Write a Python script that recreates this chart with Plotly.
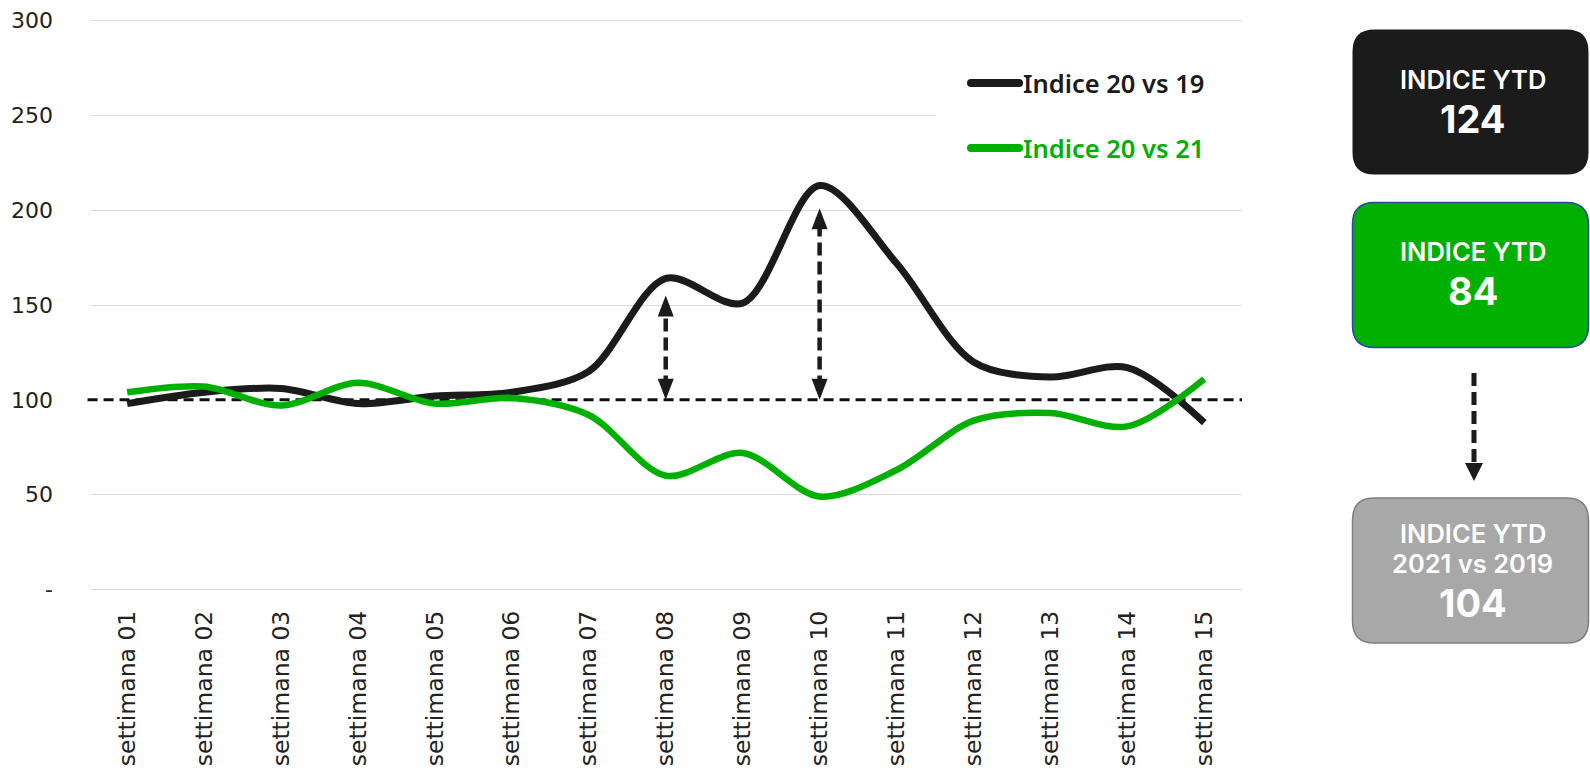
import plotly.graph_objects as go

weeks = ["settimana %02d" % i for i in range(1, 16)]
indice_20_vs_19 = [98, 104, 106, 98, 102, 104, 115, 164, 151, 213, 172, 120, 112, 117, 88]
indice_20_vs_21 = [104, 107, 97, 109, 98, 101, 92, 60, 72, 49, 63, 89, 93, 86, 111]
y_tickvals = [0, 50, 100, 150, 200, 250, 300]
y_ticktext = ["-", "50", "100", "150", "200", "250", "300"]
baseline = 100
arrow_weeks = ["settimana 08", "settimana 10"]
arrow_tops = [155, 201]
series_names = ["Indice 20 vs 19", "Indice 20 vs 21"]
box_labels = [["INDICE YTD", "124"], ["INDICE YTD", "84"], ["INDICE YTD", "2021 vs 2019", "104"]]

BLACK = "#1b1b1b"
GREEN = "#00b000"
GRAY = "#a8a8a8"
W, H = 1590, 775
PL, PR, PT, PB = 91, 1242, 19, 591   # plot area in pixels
ML, MR, MT, MB = PL, W - PR, PT, H - PB
YR = [-0.8, 300.8]


def px2x(px):
    return (px - ML) / (W - ML - MR)


def py2y(py):
    return (H - MB - py) / (H - MT - MB)


def rrect(w, h, r):
    hw, hh = w / 2, h / 2
    return (f"M{-hw + r},{-hh} L{hw - r},{-hh} Q{hw},{-hh} {hw},{-hh + r} "
            f"L{hw},{hh - r} Q{hw},{hh} {hw - r},{hh} L{-hw + r},{hh} "
            f"Q{-hw},{hh} {-hw},{hh - r} L{-hw},{-hh + r} Q{-hw},{-hh} {-hw + r},{-hh} Z")


fig = go.Figure()
fig.add_trace(go.Scatter(x=weeks, y=indice_20_vs_19, mode="lines", name=series_names[0],
                         line=dict(color=BLACK, width=7, shape="spline", smoothing=0.9),
                         showlegend=False))
fig.add_trace(go.Scatter(x=weeks, y=indice_20_vs_21, mode="lines", name=series_names[1],
                         line=dict(color=GREEN, width=6.5, shape="spline", smoothing=0.9),
                         showlegend=False))

shapes = []
# baseline dashed
shapes.append(dict(type="line", xref="x domain", yref="y", x0=-0.003, x1=1, y0=baseline, y1=baseline,
                   line=dict(color="#111111", width=3, dash="10px,6px"), layer="below"))
# legend white background (hides grid line behind legend)
shapes.append(dict(type="rect", xref="paper", yref="paper",
                   x0=px2x(936), x1=px2x(PR + 1), y0=py2y(172), y1=py2y(56),
                   fillcolor="white", line=dict(width=0), layer="above"))

# double arrows
for wk, top in zip(arrow_weeks, arrow_tops):
    xi = weeks.index(wk)
    shapes.append(dict(type="line", xref="x", yref="y", x0=xi, x1=xi, y0=baseline + 6, y1=top - 6,
                       line=dict(color=BLACK, width=4.5, dash="13px,6px"), layer="above"))
    shapes.append(dict(type="path", xref="x", yref="y", xsizemode="pixel", ysizemode="pixel",
                       xanchor=xi, yanchor=top, path="M-8,-21 L8,-21 L0,0 Z",
                       fillcolor=BLACK, line=dict(width=0), layer="above"))
    shapes.append(dict(type="path", xref="x", yref="y", xsizemode="pixel", ysizemode="pixel",
                       xanchor=xi, yanchor=baseline, path="M-8,21 L8,21 L0,0 Z",
                       fillcolor=BLACK, line=dict(width=0), layer="above"))

# legend items (manual)
annotations = []
for name, col, py in zip(series_names, [BLACK, GREEN], [83, 148]):
    shapes.append(dict(type="path", xref="paper", yref="paper", xsizemode="pixel", ysizemode="pixel",
                       xanchor=px2x(995), yanchor=py2y(py), path=rrect(56, 8, 4),
                       fillcolor=col, line=dict(width=0), layer="above"))
    annotations.append(dict(xref="paper", yref="paper", x=px2x(1021), y=py2y(py), text=name,
                            showarrow=False, xanchor="left", yanchor="middle",
                            font=dict(family="Noto Sans", size=25.5, color=col, weight=600)))

# side boxes
BX, BW, BH = 1470.5, 236, 145
boxes = [
    dict(cy=102, fill=BLACK, border=BLACK, bw=0),
    dict(cy=275, fill=GREEN, border="#2a45a8", bw=1.5),
    dict(cy=570.5, fill=GRAY, border="#7f7f7f", bw=1.5),
]
for b in boxes:
    shapes.append(dict(type="path", xref="paper", yref="paper", xsizemode="pixel", ysizemode="pixel",
                       xanchor=px2x(BX), yanchor=py2y(b["cy"]), path=rrect(BW, BH, 22),
                       fillcolor=b["fill"], line=dict(color=b["border"], width=b["bw"]), layer="above"))

text_pos = [[79, 119], [251.5, 290.5], [533, 563, 603]]
for labels, poss in zip(box_labels, text_pos):
    for j, (t, py) in enumerate(zip(labels, poss)):
        big = (j == len(labels) - 1)
        annotations.append(dict(xref="paper", yref="paper", x=px2x(BX + 2), y=py2y(py), text=t,
                                showarrow=False, xanchor="center", yanchor="middle",
                                font=dict(family="Inter", size=38 if big else 25.5, color="white",
                                          weight=700 if big else 600)))

# side dashed arrow
shapes.append(dict(type="line", xref="paper", yref="paper", x0=px2x(1474), x1=px2x(1474),
                   y0=py2y(373), y1=py2y(463), line=dict(color=BLACK, width=5, dash="13px,6px"),
                   layer="above"))
shapes.append(dict(type="path", xref="paper", yref="paper", xsizemode="pixel", ysizemode="pixel",
                   xanchor=px2x(1474), yanchor=py2y(481), path="M-9,18 L9,18 L0,0 Z",
                   fillcolor=BLACK, line=dict(width=0), layer="above"))

fig.update_layout(
    width=W, height=H, margin=dict(l=ML, r=MR, t=MT, b=MB, autoexpand=False),
    paper_bgcolor="white", plot_bgcolor="white",
    shapes=shapes, annotations=annotations,
    xaxis=dict(range=[-0.47, 14.49], type="category", automargin=False,
               showgrid=False, zeroline=False, showline=False, ticks="", tickangle=-90,
               ticklabelstandoff=14, tickfont=dict(family="DejaVu Sans", size=23.5, color="#222222")),
    yaxis=dict(range=YR, tickvals=y_tickvals, ticktext=y_ticktext, showgrid=False, automargin=False,
               zeroline=False, showline=False, ticks="",
               ticklabelstandoff=37, tickfont=dict(family="DejaVu Sans", size=22, color="#222222"),
               # grid lines everywhere except at the dashed baseline
               minor=dict(tickmode="array", tickvals=[v for v in y_tickvals if v != baseline],
                          showgrid=True, gridcolor="#d9d9d9", gridwidth=1, ticks="")),
)

fig.write_html("out.html", config={"displayModeBar": False},
               post_script="document.body.style.margin='0';document.body.style.overflow='hidden';")
